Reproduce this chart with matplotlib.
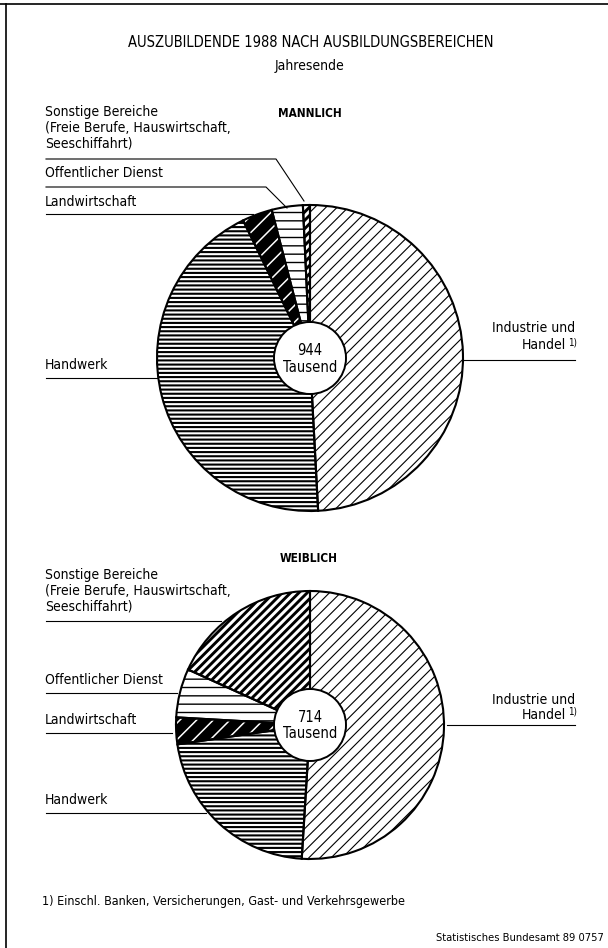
import matplotlib
matplotlib.use("Agg")
import matplotlib.pyplot as plt
from matplotlib import font_manager

# schmale Schrift, falls vorhanden
condensed = any(f.name == "DejaVu Sans" and f.stretch == "condensed"
                for f in font_manager.fontManager.ttflist)
if condensed:
    plt.rcParams["font.family"] = ["DejaVu Sans"]
    plt.rcParams["font.stretch"] = "condensed"
else:
    plt.rcParams["font.family"] = ["Liberation Sans", "DejaVu Sans"]

# Auszubildende 1988 in Tausend, Reihenfolge ab 12 Uhr gegen den Uhrzeigersinn
bereiche = ["Sonstige Bereiche", "Öffentlicher Dienst", "Landwirtschaft",
            "Handwerk", "Industrie und Handel"]
maennlich = [7, 31, 30, 412, 464]
weiblich = [130, 42, 23, 155, 364]

W, H = 608, 948


def Y(y):
    # Bildkoordinate (von oben) -> Datenkoordinate (von unten)
    return H - y


fig = plt.figure(figsize=(W / 100, H / 100), dpi=100)
ax = fig.add_axes([0, 0, 1, 1])

face = ["white", "white", "black", "white", "white"]
hatchcol = ["black", "black", "white", "black", "black"]
hatches = ["////", "--", "//", "----", "///"]
hatch_lw = [2.1, 1.0, 1.1, 1.5, 0.8]


def draw_pie(values, cx, cy, r):
    wedges, _ = ax.pie(values, colors=face, hatch=hatches, startangle=90,
                       counterclock=True, center=(cx, Y(cy)), radius=r,
                       wedgeprops=dict(linewidth=0))
    for w, hc, lw in zip(wedges, hatchcol, hatch_lw):
        w.set_edgecolor(hc)
        if hasattr(w, "set_hatch_linewidth"):
            w.set_hatch_linewidth(lw)
    # Umrisse
    ax.pie(values, colors=["none"] * len(values), startangle=90,
           counterclock=True, center=(cx, Y(cy)), radius=r,
           wedgeprops=dict(linewidth=1.5, edgecolor="black", fill=False))
    ax.add_patch(plt.Circle((cx, Y(cy)), 36, facecolor="white",
                            edgecolor="black", linewidth=1.4, zorder=5))
    ax.text(cx, Y(cy - 8), str(sum(values)), ha="center", va="center",
            fontsize=10.5, zorder=6)
    ax.text(cx, Y(cy + 9), "Tausend", ha="center", va="center",
            fontsize=10.5, zorder=6)


plt.rcParams["hatch.linewidth"] = 1.0
draw_pie(maennlich, 310, 358, 153)
draw_pie(weiblich, 310, 725, 134)

ax.set_xlim(0, W)
ax.set_ylim(0, H)
ax.set_aspect("auto")
ax.axis("off")

# Rahmen
ax.plot([0, W], [Y(4), Y(4)], color="black", lw=1.2)
ax.plot([6, 6], [Y(4), 0], color="black", lw=1.2)

# Titel
ax.text(311, Y(42), "AUSZUBILDENDE 1988 NACH AUSBILDUNGSBEREICHEN",
        ha="center", va="center", fontsize=10.5)
ax.text(310, Y(66), "Jahresende", ha="center", va="center", fontsize=10)
ax.text(310, Y(113), "MANNLICH", ha="center", va="center", fontsize=8.5,
        fontweight="bold")
ax.text(309, Y(558), "WEIBLICH", ha="center", va="center", fontsize=8.5,
        fontweight="bold")

sonst_txt = "Sonstige Bereiche\n(Freie Berufe, Hauswirtschaft,\nSeeschiffahrt)"
left_labels = [sonst_txt, "Offentlicher Dienst", "Landwirtschaft", "Handwerk"]

# Beschriftungen links, oben (männlich)
for txt, yy in zip(left_labels, [128, 173, 202, 365]):
    ax.text(45, Y(yy), txt, ha="left", va="center", fontsize=10,
            linespacing=1.15)
# Beschriftungen links, unten (weiblich)
for txt, yy in zip(left_labels, [591, 680, 720, 800]):
    ax.text(45, Y(yy), txt, ha="left", va="center", fontsize=10,
            linespacing=1.15)

lk = dict(color="black", lw=0.8)
# Linien oben
ax.plot([46, 276, 304], [Y(159), Y(159), Y(201)], **lk)
ax.plot([46, 266, 287], [Y(187), Y(187), Y(208)], **lk)
ax.plot([46, 253], [Y(214), Y(214)], **lk)
ax.plot([46, 157], [Y(378), Y(378)], **lk)
ax.plot([463, 575], [Y(360), Y(360)], **lk)
# Linien unten
ax.plot([46, 221], [Y(621), Y(621)], **lk)
ax.plot([46, 177], [Y(693), Y(693)], **lk)
ax.plot([46, 172], [Y(733), Y(733)], **lk)
ax.plot([46, 206], [Y(813), Y(813)], **lk)
ax.plot([447, 575], [Y(725), Y(725)], **lk)

# Industrie und Handel, rechts
for y1, y2 in [(328, 345), (700, 715)]:
    ax.text(575, Y(y1), "Industrie und", ha="right", va="center", fontsize=10)
    ax.text(566, Y(y2), "Handel", ha="right", va="center", fontsize=10)
    ax.text(568, Y(y2 - 3), "1)", ha="left", va="center", fontsize=7)

ax.text(42, Y(902), "1) Einschl. Banken, Versicherungen, Gast- und Verkehrsgewerbe",
        ha="left", va="center", fontsize=9)
ax.text(604, Y(938), "Statistisches Bundesamt 89 0757", ha="right",
        va="center", fontsize=8)

fig.savefig("out.png", dpi=100)
